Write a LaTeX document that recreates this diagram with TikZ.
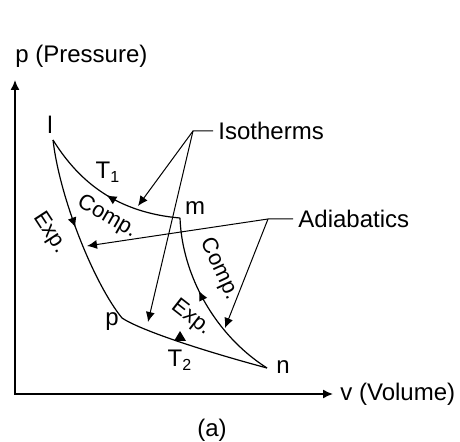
\documentclass[tikz,border=0pt]{standalone}
\usepackage{fontspec}
\setmainfont{Liberation Sans}
\usetikzlibrary{arrows.meta, decorations.markings}

\tikzset{
  lbl/.style={font=\fontsize{12}{14}\selectfont, inner sep=0pt},
  proc/.style={font=\fontsize{11}{13}\selectfont, inner sep=0pt},
  tag/.style={lbl, inner xsep=2.5pt, anchor=west},
  axis/.style={line width=0.75pt},
  curve/.style={line width=0.6pt},
  pointer/.style={line width=0.5pt, ->},
  flow/.style={postaction={decorate}, decoration={markings,
      mark=at position #1 with {\arrow{Latex[length=5pt,width=4.5pt]}}}},
  backflow/.style={postaction={decorate}, decoration={markings,
      mark=at position #1 with {\arrowreversed{Latex[length=5pt,width=4.5pt]}}}}
}

\begin{document}
\begin{tikzpicture}[x=0.5pt, y=-0.5pt, >={Latex[length=5pt,width=4.5pt]}]
    \useasboundingbox (0,0) rectangle (460,442);

    % 1. Axes
    \coordinate (ytop) at (15,80);
    \coordinate (xend) at (333,394);
    \draw[axis, <->] (ytop) |- (xend);
    \node[lbl, anchor=base west] (pname) at (15,63) {p (Pressure)};
    \node[lbl, anchor=base west] (vname) at (340,401) {v (Volume)};
    \node[lbl] (caption) at (212,430) {(a)};

    % 2. State points of the cycle
    \coordinate (l) at (53,140);
    \coordinate (m) at (180,218);
    \coordinate (n) at (267,368);
    \coordinate (p) at (122,318);
    \node[lbl] (lname) at (50,125) {l};
    \node[lbl] (mname) at (195,208) {m};
    \node[lbl] (nname) at (283,367) {n};
    \node[lbl] (pname2) at (112,322) {p};

    % 3. Isotherms and adiabatics
    \draw[curve, backflow=0.5] (l) .. controls (75,175) and (110,212) .. (m);
    \draw[curve, flow=0.47] (l) .. controls (60,200) and (95,285) .. (p);
    \draw[curve] (p) .. controls (140,330) and (200,350) .. (n);
    \draw[curve, backflow=0.42] (m) .. controls (182,275) and (215,335) .. (n);
    \fill (180,331) -- (186,341) -- (174,341) -- cycle;

    % 4. Process labels
    \node[lbl] (tone) at (108,172) {T\textsubscript{1}};
    \node[lbl] (ttwo) at (180,360) {T\textsubscript{2}};
    \node[proc, rotate=-30] (compa) at (107,217) {Comp.};
    \node[proc, rotate=-57] (expa) at (50,233) {Exp.};
    \node[proc, rotate=-65] (compb) at (219,269) {Comp.};
    \node[proc, rotate=-38] (expb) at (191,318) {Exp.};

    % 5. Pointers
    \coordinate (iso) at (193,131);
    \coordinate (isoa) at (138,206);
    \coordinate (isob) at (148,322);
    \node[tag] (isotherms) at (213,131) {Isotherms};
    \draw[pointer] (isotherms.west) -- (iso) -- (isoa);
    \draw[pointer] (iso) -- (isob);

    \coordinate (adi) at (268,219);
    \coordinate (adia) at (87,246);
    \coordinate (adib) at (225,328);
    \node[tag] (adiabatics) at (293,219) {Adiabatics};
    \draw[pointer] (adiabatics.west) -- (adi) -- (adia);
    \draw[pointer] (adi) -- (adib);
\end{tikzpicture}
\end{document}
